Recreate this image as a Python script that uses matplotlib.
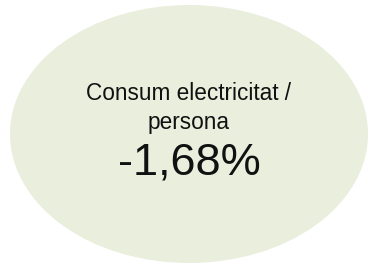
import matplotlib
matplotlib.use("Agg")
import matplotlib.pyplot as plt
from matplotlib.patches import Ellipse

label_lines = ["Consum electricitat /", "persona"]
value_text = "-1,68%"

W, H = 369, 264
fig = plt.figure(figsize=(W / 100, H / 100), dpi=100)
ax = fig.add_axes([0, 0, 1, 1])
ax.set_xlim(0, W)
ax.set_ylim(H, 0)
ax.axis("off")

ax.add_patch(Ellipse((189, 134), 358, 258, facecolor="#EAEEDD", edgecolor="none"))

ax.text(189, 93, label_lines[0], ha="center", va="center", fontsize=16.3,
        family="Liberation Sans", color="#111111")
ax.text(189, 122, label_lines[1], ha="center", va="center", fontsize=16.3,
        family="Liberation Sans", color="#111111")
ax.text(189, 163, value_text, ha="center", va="center", fontsize=32.5,
        family="Liberation Sans", color="#111111")

fig.savefig("out.png", dpi=100)
